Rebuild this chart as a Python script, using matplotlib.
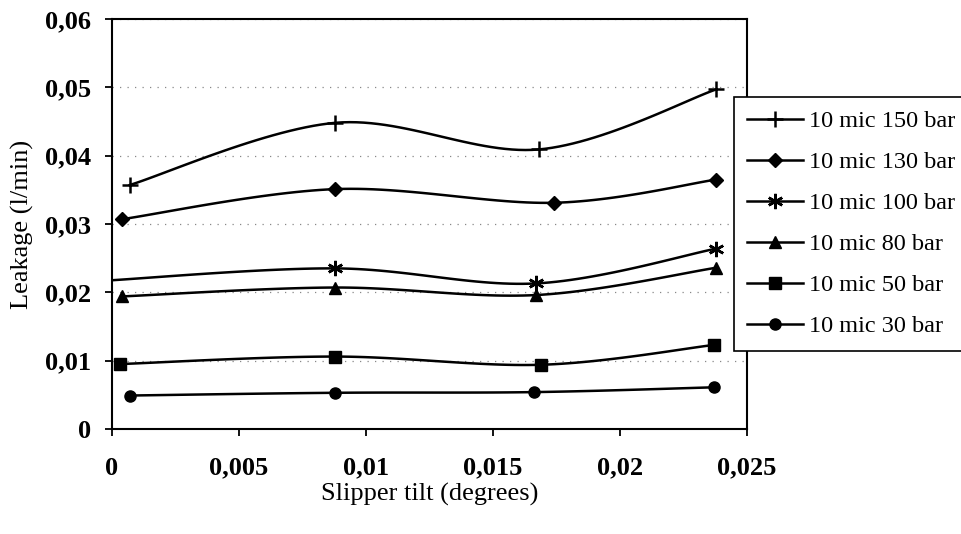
import numpy as np
import matplotlib.pyplot as plt
from matplotlib.ticker import FuncFormatter

plt.rcParams['font.family'] = ['Liberation Serif', 'DejaVu Serif']

# slipper tilt (degrees) for each series
x150 = [0.0007, 0.0088, 0.0168, 0.0238]
y150 = [0.0357, 0.0448, 0.0409, 0.0497]
x130 = [0.0004, 0.0088, 0.0174, 0.0238]
y130 = [0.0307, 0.0351, 0.0331, 0.0365]
x100 = [-0.0003, 0.0088, 0.0167, 0.0238]
y100 = [0.0217, 0.0235, 0.0213, 0.0264]
x80 = [0.0004, 0.0088, 0.0167, 0.0238]
y80 = [0.0194, 0.0207, 0.0196, 0.0236]
x50 = [0.0003, 0.0088, 0.0169, 0.0237]
y50 = [0.0095, 0.0106, 0.0094, 0.0123]
x30 = [0.0007, 0.0088, 0.0166, 0.0237]
y30 = [0.0049, 0.0053, 0.0054, 0.0061]

labels = ['10 mic 150 bar', '10 mic 130 bar', '10 mic 100 bar',
          '10 mic 80 bar', '10 mic 50 bar', '10 mic 30 bar']


def smooth(xs, ys, n=30):
    # Excel-style smoothed line (Catmull-Rom through the points)
    p = np.column_stack([xs, ys])
    p = np.vstack([p[0], p, p[-1]])
    out = []
    t = np.linspace(0, 1, n)[:, None]
    for i in range(1, len(p) - 2):
        p0, p1, p2, p3 = p[i - 1], p[i], p[i + 1], p[i + 2]
        seg = 0.5 * ((2 * p1) + (-p0 + p2) * t
                     + (2 * p0 - 5 * p1 + 4 * p2 - p3) * t ** 2
                     + (-p0 + 3 * p1 - 3 * p2 + p3) * t ** 3)
        out.append(seg)
    out = np.vstack(out)
    return out[:, 0], out[:, 1]


series = [
    (x150, y150, dict(marker='+', markersize=11, markeredgewidth=1.8)),
    (x130, y130, dict(marker='D', markersize=7)),
    (x100, y100, dict(marker=(6, 2, 0), markersize=11, markeredgewidth=1.8)),
    (x80, y80, dict(marker='^', markersize=9)),
    (x50, y50, dict(marker='s', markersize=8)),
    (x30, y30, dict(marker='o', markersize=8)),
]

fig = plt.figure(figsize=(9.62, 5.34), dpi=100)
ax = fig.add_axes([0.1164, 0.1966, 0.66, 0.768])

handles = []
for (xs, ys, mk), lab in zip(series, labels):
    sx, sy = smooth(xs, ys)
    ax.plot(sx, sy, color='black', lw=1.8)
    ax.plot(xs, ys, linestyle='none', color='black', **mk)
    h, = ax.plot([], [], color='black', lw=1.8, **mk)
    handles.append(h)

ax.set_xlim(0, 0.025)
ax.set_ylim(0, 0.06)
ax.set_xticks(np.arange(0, 0.0251, 0.005))
ax.set_yticks(np.arange(0, 0.0601, 0.01))

comma = FuncFormatter(lambda v, pos: f"{round(v, 4):g}".replace('.', ','))
ax.xaxis.set_major_formatter(comma)
ax.yaxis.set_major_formatter(comma)

ax.grid(axis='y', color='#888888', linestyle=(0, (1, 5)), lw=0.9)
for s in ax.spines.values():
    s.set_linewidth(1.5)
ax.tick_params(axis='x', direction='out', length=5, width=1.3, pad=15, labelsize=19)
ax.tick_params(axis='y', direction='out', length=5, width=1.3, pad=10, labelsize=19)
for t in ax.get_xticklabels() + ax.get_yticklabels():
    t.set_fontweight('bold')

ax.set_xlabel('Slipper tilt (degrees)', fontsize=19, labelpad=2)
ax.set_ylabel('Leakage (l/min)', fontsize=19, labelpad=8)

leg = fig.legend(handles, labels, loc='upper left',
                 bbox_to_anchor=(734 / 962, 1 - 97 / 534),
                 fontsize=17.5, frameon=True, fancybox=False, framealpha=1,
                 edgecolor='black', handlelength=2.3, handletextpad=0.25,
                 labelspacing=0.78, borderpad=0.55, borderaxespad=0)
leg.get_frame().set_linewidth(1.2)

fig.savefig('out.png', dpi=100)
